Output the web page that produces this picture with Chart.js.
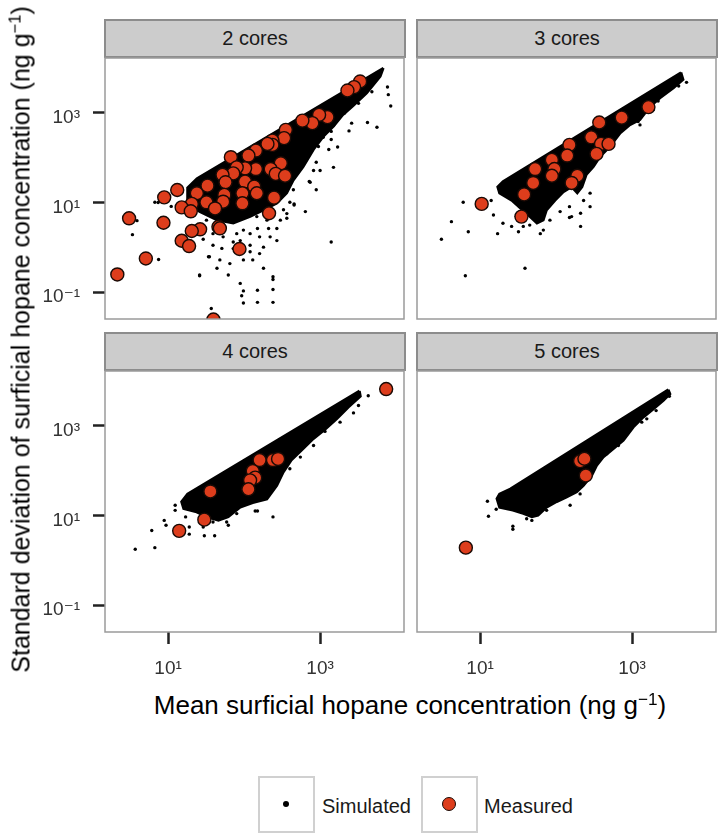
<!DOCTYPE html>
<html lang="en">
<head>
  <meta charset="utf-8">
  <title>Mean vs standard deviation of surficial hopane concentration</title>
  <script src="https://cdn.jsdelivr.net/npm/chart.js@4.4.1/dist/chart.umd.min.js"></script>
  <style>
    * { margin: 0; padding: 0; }
    body {
      width: 721px;
      height: 837px;
      position: relative;
      overflow: hidden;
      background: #fff;
      font-family: "Liberation Sans", Arial, sans-serif;
    }
    canvas { position: absolute; }
    .strip {
      position: absolute;
      box-sizing: border-box;
      width: 302px;
      height: 39px;
      background: #cccccc;
      border: 2px solid #8c8c8c;
      color: #1a1a1a;
      font-size: 20px;
      display: flex;
      align-items: center;
      justify-content: center;
    }
    .title {
      position: absolute;
      width: 720px;
      text-align: center;
      line-height: 28px;
      color: #000;
      white-space: nowrap;
    }
    .title sup {
      font-size: 0.66em;
      position: relative;
      top: -0.55em;
      vertical-align: baseline;
    }
    #xtitle { left: 50px; top: 691px; font-size: 26px; }
    #ytitle { left: -338px; top: 324px; font-size: 25px; transform: rotate(-90deg); }
    .key {
      position: absolute;
      top: 776px;
      width: 57px;
      height: 57px;
      box-sizing: border-box;
      border: 2.5px solid #d0d0d0;
    }
    .key span { position: absolute; border-radius: 50%; }
    .key-label {
      position: absolute;
      top: 792px;
      font-size: 20px;
      line-height: 28px;
      color: #1a1a1a;
    }
  </style>
</head>
<body>

  <div class="strip" style="left:104px; top:19px">2 cores</div>
  <div class="strip" style="left:416px; top:19px">3 cores</div>
  <div class="strip" style="left:104px; top:332px">4 cores</div>
  <div class="strip" style="left:416px; top:332px">5 cores</div>

  <canvas id="p2" width="403" height="321" style="left:5px; top:54px"></canvas>
  <canvas id="p3" width="403" height="321" style="left:317px; top:54px"></canvas>
  <canvas id="p4" width="403" height="321" style="left:5px; top:367px"></canvas>
  <canvas id="p5" width="403" height="321" style="left:317px; top:367px"></canvas>

  <div class="title" id="xtitle">Mean surficial hopane concentration (ng g<sup>−1</sup>)</div>
  <div class="title" id="ytitle">Standard deviation of surficial hopane concentration (ng g<sup>−1</sup>)</div>

  <div class="key" style="left:258px"><span style="left:23px; top:23px; width:6px; height:6px; background:#000"></span></div>
  <div class="key-label" style="left:322px">Simulated</div>
  <div class="key" style="left:421px"><span style="left:18.5px; top:18.5px; width:12px; height:12px; background:#dd3d1c; border:1.3px solid #1a0a05"></span></div>
  <div class="key-label" style="left:484px">Measured</div>

  <script>
    // axis limits and tick labels (log10 scales shared by all facets)
    const xMin = 1.48, xMax = 12700;
    const yMin = 0.0251, yMax = 16400;
    const xTicks = [10, 1000];
    const yTicks = [0.1, 10, 1000];
    const tickText = { 0.1: '10⁻¹', 10: '10¹', 1000: '10³' };

    // [mean, sd] pairs
    // outline of the solid black cloud of simulated points
    const core2 = [[6800, 9800], [24, 34], [18, 21], [18, 9.5], [26, 6.2], [44, 4.0], [72, 3.4], [120, 4.8],
      [180, 6.7], [270, 9.5], [365, 16], [445, 31], [600, 62], [820, 150], [1100, 290], [1500, 490],
      [2000, 890], [2700, 1400], [4100, 2700], [6200, 6400], [6800, 9800]];
    const core3 = [[4400, 7800], [20, 29], [17, 22], [18, 16], [26, 11], [34, 7.3], [43, 5.2], [56, 3.4],
      [68, 4.0], [75, 6.7], [97, 11], [125, 17], [160, 22], [190, 16], [220, 22], [250, 41], [310, 62],
      [380, 104], [510, 174], [700, 350], [940, 530], [1270, 690], [1730, 1360], [2330, 2100],
      [3500, 3500], [4700, 5400], [4400, 7800]];
    const core4 = [[3300, 5900], [18, 30], [15, 20], [16, 14], [23, 12], [32, 9.2], [46, 7.7], [62, 9.2],
      [89, 15], [130, 19], [200, 23], [270, 46], [330, 92], [420, 170], [570, 280], [820, 510],
      [1160, 810], [1660, 1400], [2350, 2550], [3400, 4500], [3300, 5900]];
    const core5 = [[3000, 6300], [25, 39], [18, 30], [16.6, 23.5], [18, 15], [27, 12.9], [37, 10.9],
      [48, 9.2], [58, 10], [75, 15], [102, 20], [138, 25.5], [187, 33], [229, 46], [295, 77], [343, 129],
      [420, 198], [568, 303], [769, 464], [1040, 918], [1410, 1530], [1910, 2340], [2580, 3590],
      [3160, 5060], [3000, 6300]];

    // simulated points lying outside the solid cloud
    const sim2 = [[7700, 3700], [7900, 2500], [8500, 1400], [5600, 470], [4200, 600], [4800, 2900],
      [3200, 1600], [2600, 580], [2400, 390], [2100, 970], [1800, 970], [1500, 520], [1400, 380],
      [1400, 250], [1100, 280], [1700, 170], [1500, 60], [1300, 150], [950, 175], [890, 78], [820, 51],
      [1000, 51], [740, 28], [890, 19], [445, 19], [455, 8.7], [1400, 1.3], [640, 6.2], [365, 5.6],
      [300, 4.0], [270, 2.6], [220, 1.7], [180, 1.0], [160, 0.72], [130, 0.52], [120, 0.79], [98, 0.52],
      [72, 0.93], [65, 0.43], [62, 0.24], [48, 0.52], [44, 0.34], [26, 0.24], [34, 0.61], [29, 1.5],
      [22, 2.9], [11, 8.1], [7.4, 9.9], [7.5, 0.53], [93, 0.083], [98, 0.057], [150, 0.059], [240, 0.059],
      [240, 0.19], [180, 0.34], [37, 0.043], [120, 2.0], [150, 2.6], [89, 1.4], [53, 1.7], [39, 2.0],
      [80, 2.0], [200, 4.0], [330, 6.8], [400, 10], [56, 2.6], [3.9, 3.9], [3.4, 1.9], [6.7, 10],
      [26, 0.23], [35, 0.61], [1050, 310], [720, 29], [455, 9.2], [365, 4.4], [270, 1.4], [240, 0.22],
      [240, 0.114], [150, 0.11], [98, 0.106], [89, 0.156], [32, 4.0], [59, 4.8], [98, 2.4], [147, 4.8],
      [220, 6.7], [72, 1.3], [120, 1.1], [39, 1.1], [24, 2.0], [51, 0.94], [210, 2.6], [160, 1.7]];
    const sim3 = [[5200, 4700], [4100, 3900], [2200, 1800], [1200, 630], [810, 530], [280, 8.0],
      [210, 5.7], [210, 2.9], [160, 4.8], [68, 2.4], [45, 3.1], [37, 2.9], [26, 2.9], [20, 3.4], [17, 2.0],
      [15, 5.2], [14, 11], [6.0, 10], [4.2, 3.7], [7.0, 2.2], [3.1, 1.5], [6.4, 0.23], [39, 0.34],
      [30, 4.8], [50, 4.8], [83, 4.0], [150, 8.0], [113, 6.2], [32, 2.2], [62, 2.0], [12, 8.0],
      [150, 4.6], [1270, 530], [1900, 1150], [230, 11], [280, 16]];
    const sim4 = [[4300, 4600], [3200, 2800], [1160, 740], [240, 9.2], [140, 12.5], [150, 12.5], [62, 6.0],
      [41, 3.5], [30, 3.5], [19, 3.8], [19, 5.5], [9.4, 6.0], [8.9, 7.7], [6.1, 4.6], [6.7, 1.9],
      [3.7, 1.75], [12.4, 16.7], [12.4, 12.9], [17, 9.2], [29, 5.5], [39, 7.1], [59, 7.1], [20.5, 15],
      [80, 10.9], [400, 109], [550, 198], [820, 360], [1830, 1190], [2750, 1910]];
    const sim5 = [[12.5, 20.5], [12.9, 9.5], [16.3, 13.6], [27, 5.7], [27, 4.9], [41, 8.4], [48, 7.7],
      [75, 12.9], [153, 16.7], [207, 30], [465, 234], [660, 360], [1340, 1190], [2070, 2150],
      [3090, 4490], [1560, 1410], [380, 182]];

    // measured cores
    const meas2 = [[3360, 4920], [2800, 3690], [2290, 3100], [1250, 790], [970, 890], [790, 580],
      [585, 660], [354, 411], [336, 269], [236, 237], [236, 190], [203, 200], [143, 142], [114, 110],
      [67, 101], [304, 74], [224, 55], [143, 55], [103, 57], [80, 60], [72, 44], [52, 41], [261, 43],
      [346, 39], [103, 29], [57, 28], [33, 23.5], [136, 22.3], [13.2, 18.8], [23.9, 15.9], [95, 15.9],
      [147, 15.9], [55, 14.6], [8.9, 12.9], [248, 12.7], [32, 10], [53, 10.3], [95, 9.5], [20.5, 9.2],
      [15.1, 7.7], [41.5, 7.3], [19.9, 6.3], [213, 5.7], [3.07, 4.4], [8.7, 3.5], [46, 2.85], [48, 2.63],
      [26.4, 2.5], [20.5, 2.29], [15.1, 1.39], [18.9, 1.06], [87, 0.91], [5.1, 0.56], [2.15, 0.247],
      [39.5, 0.0244]];
    const meas3 = [[1640, 1320], [730, 770], [370, 600], [290, 280], [390, 200], [490, 200], [340, 120],
      [150, 190], [140, 110], [88, 88], [95, 55], [88, 39], [53, 55], [50, 27], [190, 39], [160, 27],
      [38, 15], [10.5, 9.2], [35, 4.8]];
    const meas4 = [[7400, 6500], [160, 170], [240, 170], [280, 180], [130, 97], [140, 69], [120, 60],
      [114, 38], [36, 34], [30, 8.0], [14, 4.5]];
    const meas5 = [[6.5, 1.9], [207, 161], [236, 182], [246, 77]];

    const toXY = pairs => pairs.map(([x, y]) => ({ x, y }));

    const panelBorder = {
      id: 'panelBorder',
      afterDraw(chart) {
        const a = chart.chartArea;
        const ctx = chart.ctx;
        ctx.save();
        ctx.strokeStyle = '#9a9a9a';
        ctx.lineWidth = 1.5;
        ctx.strokeRect(a.left, a.top, a.right - a.left, a.bottom - a.top);
        ctx.restore();
      }
    };

    function axis(min, max, ticks, show, isX) {
      return {
        type: 'logarithmic',
        min: min,
        max: max,
        afterBuildTicks: s => { s.ticks = ticks.map(v => ({ value: v })); },
        afterFit: s => {
          if (isX) s.height = 56; else s.width = 100;
          // keep every panel's plot area at the same fixed place
          s.paddingTop = 0; s.paddingBottom = 0; s.paddingLeft = 0; s.paddingRight = 0;
        },
        border: { display: false },
        grid: {
          drawOnChartArea: false,
          drawTicks: show,
          tickLength: 12,
          tickWidth: 2.5,
          tickColor: '#222'
        },
        ticks: {
          display: show,
          autoSkip: false,
          maxRotation: 0,
          padding: 13,
          labelOffset: isX ? 0 : 5,
          color: '#333',
          font: { family: "'Liberation Sans', 'DejaVu Sans', sans-serif", size: 19 },
          callback: v => tickText[v] || ''
        }
      };
    }

    function makePanel(id, core, sim, meas, showX, showY) {
      new Chart(document.getElementById(id), {
        type: 'scatter',
        data: {
          datasets: [
            {
              label: 'Measured',
              data: toXY(meas),
              pointRadius: 6.5,
              pointBackgroundColor: '#dd3d1c',
              pointBorderColor: '#1a0a05',
              pointBorderWidth: 1.4,
              clip: 0
            },
            {
              label: 'Simulated',
              data: toXY(sim),
              pointRadius: 1.7,
              pointBackgroundColor: '#000',
              pointBorderWidth: 0,
              clip: 0
            },
            {
              type: 'line',
              label: 'Simulated (dense)',
              data: toXY(core),
              borderColor: '#000',
              backgroundColor: '#000',
              borderWidth: 2.5,
              pointRadius: 0,
              tension: 0,
              fill: 'shape',
              clip: 0
            }
          ]
        },
        options: {
          responsive: false,
          animation: false,
          events: [],
          layout: { autoPadding: false, padding: { left: 0, top: 4, right: 4, bottom: 0 } },
          plugins: { legend: { display: false }, tooltip: { enabled: false } },
          scales: {
            x: axis(xMin, xMax, xTicks, showX, true),
            y: axis(yMin, yMax, yTicks, showY, false)
          }
        },
        plugins: [panelBorder]
      });
    }

    makePanel('p2', core2, sim2, meas2, false, true);
    makePanel('p3', core3, sim3, meas3, false, false);
    makePanel('p4', core4, sim4, meas4, true, true);
    makePanel('p5', core5, sim5, meas5, true, false);
  </script>
</body>
</html>
